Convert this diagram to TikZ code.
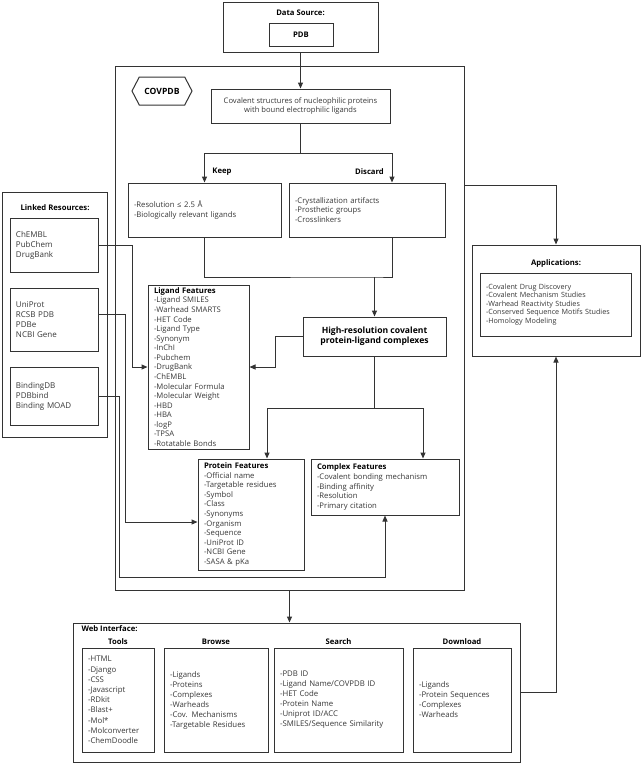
\documentclass[tikz,border=0pt]{standalone}
\usepackage{fontspec}
\setmainfont{Open Sans}
\usetikzlibrary{arrows.meta,shapes.symbols,calc}
\definecolor{covline}{HTML}{333333}
\definecolor{covtext}{HTML}{383838}

\tikzset{
  box/.style={draw=covline,line width=1pt,fill=white,inner sep=0pt},
  lst/.style={box,align=left,inner xsep=6pt,text=covtext,font=\fontsize{7.7}{9.56}\selectfont},
  hd/.style={text=black,font=\fontsize{7.7}{9.5}\selectfont\bfseries},
  ln/.style={draw=covline,line width=1pt},
  arr/.style={ln,-{Triangle[length=6pt,width=5pt]}},
}

\begin{document}
\begin{tikzpicture}[x=1pt,y=-1pt]
\useasboundingbox (0,0) rectangle (642,764);

% outer frames
\node[box,minimum width=349,minimum height=524] (covpdb) at (289.5,328) {};
\node[box,minimum width=105,minimum height=245] (linked) at (54.5,314.5) {};
\node[box,minimum width=168,minimum height=111] (apps) at (556,300.5) {};
\node[box,minimum width=447,minimum height=139] (web) at (296.5,692.5) {};

% data source
\node[box,minimum width=155,minimum height=50] (src) at (300.5,27) {};
\node[hd] (srctitle) at (300.5,13) {Data Source:};
\node[box,hd,minimum width=64,minimum height=23] (pdb) at (301,34.5) {PDB};

% covpdb
\node[box,signal,signal to=west and east,signal pointer angle=125,minimum width=60,minimum height=28,hd,font=\fontsize{8.6}{10}\selectfont\bfseries] (tag) at (162,91) {COVPDB};
\node[box,align=center,text=covtext,font=\fontsize{7.6}{9.4}\selectfont,minimum width=179,minimum height=34] (cov) at (300.5,106) {Covalent structures of nucleophilic proteins\\with bound electrophilic ligands};
\node[hd] (keeplbl) at (222,172) {Keep};
\node[hd] (disclbl) at (369.5,172) {Discard};
\node[lst,text width=141,minimum width=153,minimum height=54] (keep) at (204.5,210) {-Resolution ≤ 2.5 Å\\-Biologically relevant ligands};
\node[lst,text width=144,minimum width=156,minimum height=54] (disc) at (367,210) {-Crystallization artifacts\\-Prosthetic groups\\-Crosslinkers};
\node[box,align=center,text=black,font=\fontsize{8.6}{10.2}\selectfont\bfseries,minimum width=143,minimum height=39] (hires) at (374.5,336.5) {High-resolution covalent\\protein-ligand complexes};
\node[lst,text width=89,minimum width=101,minimum height=164] (lig) at (198.5,367) {\textbf{\color{black}Ligand Features}\\-Ligand SMILES\\-Warhead SMARTS\\-HET Code\\-Ligand Type\\-Synonym\\-InChI\\-Pubchem\\-DrugBank\\-ChEMBL\\-Molecular Formula\\-Molecular Weight\\-HBD\\-HBA\\-logP\\-TPSA\\-Rotatable Bonds};
\node[lst,text width=94,minimum width=106,minimum height=111] (prot) at (251,514.5) {\textbf{\color{black}Protein Features}\\-Official name\\-Targetable residues\\-Symbol\\-Class\\-Synonyms\\-Organism\\-Sequence\\-UniProt ID\\-NCBI Gene\\-SASA \& pKa};
\node[lst,text width=136,minimum width=148,minimum height=56] (cplx) at (385,487) {\textbf{\color{black}Complex Features}\\-Covalent bonding mechanism\\-Binding affinity\\-Resolution\\-Primary citation};

% linked resources
\node[hd] (linkedtitle) at (55,208) {Linked Resources:};
\node[lst,font=\fontsize{8}{10}\selectfont,text width=76,minimum width=88,minimum height=54] (chembl) at (54,245) {ChEMBL\\PubChem\\DrugBank};
\node[lst,font=\fontsize{8}{10}\selectfont,text width=76,minimum width=88,minimum height=63] (uni) at (54,319.5) {UniProt\\RCSB PDB\\PDBe\\NCBI Gene};
\node[lst,font=\fontsize{8}{10}\selectfont,text width=76,minimum width=88,minimum height=58] (bind) at (54,396) {BindingDB\\PDBbind\\Binding MOAD};

% applications
\node[hd] (appstitle) at (556,263) {Applications:};
\node[lst,font=\fontsize{7.2}{8.6}\selectfont,text width=139,minimum width=151,minimum height=63] (appl) at (555.5,304.5) {-Covalent Drug Discovery\\-Covalent Mechanism Studies\\-Warhead Reactivity Studies\\-Conserved Sequence Motifs Studies\\-Homology Modeling};

% web interface
\node[hd,anchor=west] (webtitle) at (78,629) {Web Interface:};
\node[hd] (toolshd) at (118,642) {Tools};
\node[hd] (browsehd) at (216,642) {Browse};
\node[hd] (searchhd) at (338.5,642) {Search};
\node[hd] (dlhd) at (462,642) {Download};
\node[lst,font=\fontsize{7.8}{10.2}\selectfont,text width=60,minimum width=72,minimum height=104] (tools) at (118,700) {-HTML\\-Django\\-CSS\\-Javascript\\-RDkit\\-Blast+\\-Mol*\\-Molconverter\\-ChemDoodle};
\node[lst,font=\fontsize{7.8}{10}\selectfont,text width=92,minimum width=104,minimum height=104] (browse) at (216,700) {-Ligands\\-Proteins\\-Complexes\\-Warheads\\-Cov. Mechanisms\\-Targetable Residues};
\node[lst,font=\fontsize{7.8}{10}\selectfont,text width=117,minimum width=129,minimum height=104] (search) at (338.5,700) {-PDB ID\\-Ligand Name/COVPDB ID\\-HET Code\\-Protein Name\\-Uniprot ID/ACC\\-SMILES/Sequence Similarity};
\node[lst,font=\fontsize{7.8}{10}\selectfont,text width=86,minimum width=98,minimum height=104] (dl) at (462,700) {-Ligands\\-Protein Sequences\\-Complexes\\-Warheads};

% connectors
\coordinate (fork) at (300.5,153);
\coordinate (merge) at (374.5,277);
\coordinate (split) at (374.5,408);
\coordinate (bend) at (119,577);
\draw[arr] (src.south) -- (cov.north);
\draw[ln] (cov.south) -- (fork);
\draw[arr] (fork) -| (keep.north);
\draw[arr] (fork) -| ([xshift=25pt]disc.north);
\draw[ln] (keep.south) |- (merge) -| ([xshift=25pt]disc.south);
\draw[arr] (merge) -- (hires.north);
\draw[arr] (hires.west) -- ++(-27,0) |- (lig.east);
\draw[ln] (hires.south) -- (split);
\draw[arr] (split) -| ([xshift=16pt]prot.north);
\draw[arr] (split) -| ([xshift=38pt]cplx.north);
\draw[arr] (chembl.east) -- ++(34,0) |- (lig.west);
\draw[arr] ([yshift=5.5pt]uni.east) -- ++(27,0) |- ([yshift=-7.5pt]prot.west);
\draw[arr] (bind.east) -| (bend) -| (cplx.south);
\draw[arr] ([yshift=143pt]covpdb.east) -| (apps.north);
\draw[arr] (covpdb.south) -- (covpdb.south |- web.north);
\draw[arr] (web.east) -| (apps.south);
\end{tikzpicture}
\end{document}
